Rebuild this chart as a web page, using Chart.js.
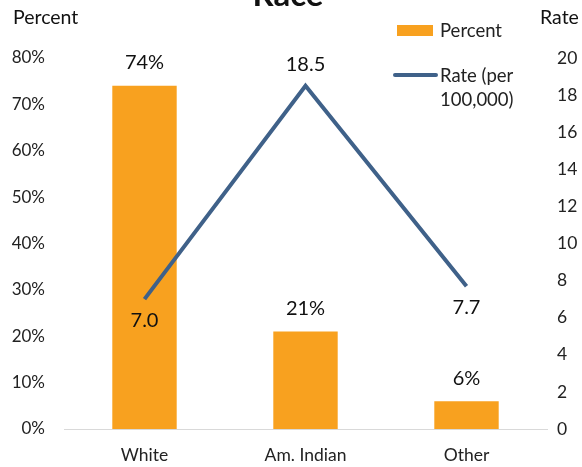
<!DOCTYPE html>
<html>
<head>
<meta charset="utf-8">
<script src="https://cdn.jsdelivr.net/npm/chart.js@4.4.1/dist/chart.umd.min.js"></script>
<style>
  html, body { margin: 0; padding: 0; background: #fff; }
  #wrap { position: relative; width: 582px; height: 467px; overflow: hidden; font-family: Lato, "Noto Sans", sans-serif; }
  #c { position: absolute; left: 0; top: 0; }
  .legend { position: absolute; font-size: 18.5px; color: #222; line-height: 24px; }
  .sw-bar { position: absolute; left: 397px; top: 25px; width: 36px; height: 11px; background: #F8A11F; }
  .sw-line { position: absolute; left: 393px; top: 73px; width: 45px; height: 4px; border-radius: 2px; background: #3F6189; }
</style>
</head>
<body>
<div id="wrap">
  <canvas id="c" width="630" height="467"></canvas>
  <div class="sw-bar"></div>
  <div class="legend" style="left:440px; top:18px;">Percent</div>
  <div class="sw-line"></div>
  <div class="legend" style="left:440px; top:63px;">Rate (per<br>100,000)</div>
</div>
<script>
const categories = ['White', 'Am. Indian', 'Other'];
const percentValues = [74, 21, 6];
const rateValues = [7.0, 18.5, 7.7];
const percentTicks = [0, 10, 20, 30, 40, 50, 60, 70, 80];
const rateTicks = [0, 2, 4, 6, 8, 10, 12, 14, 16, 18, 20];

const FONT = 'Lato, "Noto Sans", sans-serif';

// Draws the title, the axis titles and the value labels on each mark.
const annotate = {
  id: 'annotate',
  afterDatasetsDraw(chart) {
    const ctx = chart.ctx;
    ctx.save();
    ctx.fillStyle = '#111';
    ctx.textAlign = 'center';
    ctx.textBaseline = 'middle';

    ctx.font = 'bold 33px ' + FONT;
    ctx.fillText('Race', 288, -5);

    ctx.font = '19.5px ' + FONT;
    ctx.textAlign = 'left';
    ctx.fillText('Percent', 13, 18);
    ctx.fillText('Rate', 540, 18);

    ctx.font = '20px ' + FONT;
    ctx.textAlign = 'center';
    const bars = chart.getDatasetMeta(0).data;
    bars.forEach((b, i) => {
      ctx.fillText(percentValues[i] + '%', b.x, b.y - 23);
    });
    const pts = chart.getDatasetMeta(1).data;
    pts.forEach((p, i) => {
      const above = i === 1;
      ctx.fillText(rateValues[i].toFixed(1), p.x, above ? p.y - 21 : p.y + 21);
    });
    ctx.restore();
  }
};

new Chart(document.getElementById('c'), {
  data: {
    labels: categories,
    datasets: [
      {
        type: 'bar',
        label: 'Percent',
        data: percentValues,
        yAxisID: 'yPct',
        backgroundColor: '#F8A11F',
        categoryPercentage: 1.0,
        barPercentage: 0.4,
        order: 2
      },
      {
        type: 'line',
        label: 'Rate (per 100,000)',
        data: rateValues,
        yAxisID: 'yRate',
        borderColor: '#3F6189',
        borderWidth: 4,
        pointRadius: 0,
        tension: 0,
        order: 1
      }
    ]
  },
  options: {
    responsive: false,
    animation: false,
    events: [],
    layout: { padding: { top: 58, bottom: 0, left: 0, right: 0 } },
    plugins: { legend: { display: false }, tooltip: { enabled: false } },
    scales: {
      x: {
        grid: { display: false },
        border: { display: true, color: '#D9D9D9', width: 1 },
        ticks: { color: '#222', font: { family: FONT, size: 17.5 }, padding: 8 },
        afterFit(s) { s.height = 38; }
      },
      yPct: {
        position: 'left',
        min: 0, max: 80,
        afterBuildTicks(s) { s.ticks = percentTicks.map(v => ({ value: v })); },
        grid: { display: false, drawTicks: false },
        border: { display: false },
        ticks: { color: '#222', font: { family: FONT, size: 17 }, padding: 19, callback: v => v + '%' },
        afterFit(s) { s.width = 64; }
      },
      yRate: {
        position: 'right',
        min: 0, max: 20,
        afterBuildTicks(s) { s.ticks = rateTicks.map(v => ({ value: v })); },
        grid: { display: false, drawTicks: false },
        border: { display: false },
        ticks: { color: '#222', font: { family: FONT, size: 17.5 }, padding: 10 },
        afterFit(s) { s.width = 83; }
      }
    }
  },
  plugins: [annotate]
});
</script>
</body>
</html>
